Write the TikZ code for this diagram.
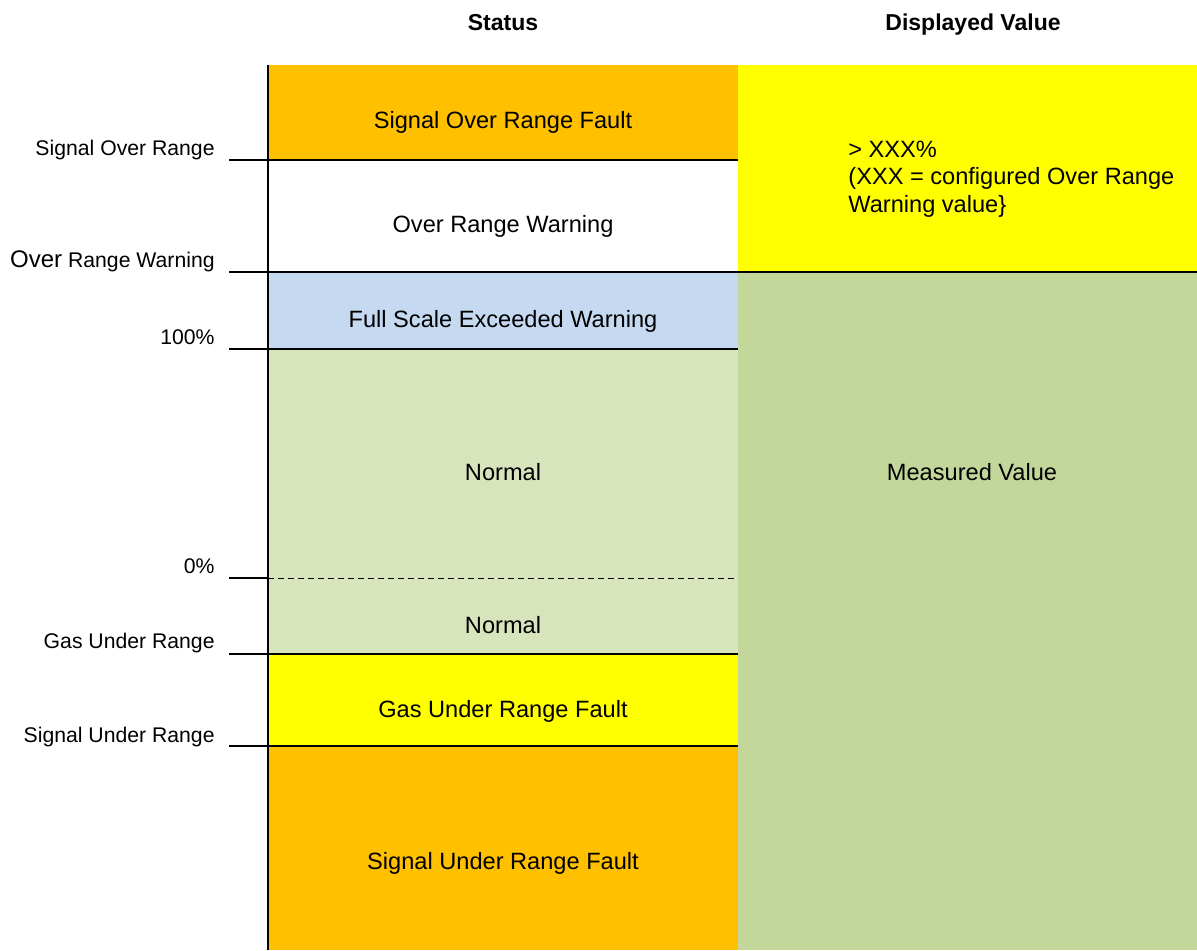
\documentclass[tikz,border=0pt]{standalone}
\usepackage{fontspec}
\setmainfont{Liberation Sans}
\definecolor{faultorange}{HTML}{FFC000}
\definecolor{faultyellow}{HTML}{FFFF00}
\definecolor{warnblue}{HTML}{C5D9F1}
\definecolor{normalgreen}{HTML}{D8E4BC}
\definecolor{valuegreen}{HTML}{C4D79B}
\begin{document}
\begin{tikzpicture}[
      x=0.5pt, y=-0.5pt,
      every node/.style={font=\fontsize{11.8}{13.6}\selectfont, inner sep=0pt},
      header/.style={anchor=base, font=\fontsize{11.5}{13.5}\selectfont\bfseries},
      band/.style={anchor=base},
      level/.style={anchor=base east, font=\fontsize{10.6}{12.5}\selectfont},
      tick/.style={line width=1pt},
      zero/.style={densely dashed, line width=0.4pt}
    ]
    \useasboundingbox (0,0) rectangle (1197,950);

    % status column
    \fill[faultorange] (268,65) rectangle (738,160);
    \fill[white] (268,160) rectangle (738,272);
    \fill[warnblue] (268,272) rectangle (738,349);
    \fill[normalgreen] (268,349) rectangle (738,654);
    \fill[faultyellow] (268,654) rectangle (738,746);
    \fill[faultorange] (268,746) rectangle (738,950);

    % displayed value column
    \fill[faultyellow] (738,65) rectangle (1197,272);
    \fill[valuegreen] (738,272) rectangle (1197,950);

    % level lines
    \coordinate (top) at (268,65);
    \coordinate (bottom) at (268,950);
    \draw[tick] (top) -- (bottom);
    \draw[tick] (229,160) -- (738,160);
    \draw[tick] (229,272) -- (1197,272);
    \draw[tick] (229,349) -- (738,349);
    \draw[tick] (229,578) -- (268,578);
    \draw[zero] (268,578) -- (738,578);
    \draw[tick] (229,654) -- (738,654);
    \draw[tick] (229,746) -- (738,746);

    \node[header] (status) at (503,30) {Status};
    \node[header] (displayed) at (973,30) {Displayed Value};

    \node[band] (sorf) at (503,128) {Signal Over Range Fault};
    \node[band] (orw) at (503,232) {Over Range Warning};
    \node[band] (fsew) at (503,327) {Full Scale Exceeded Warning};
    \node[band] (normal1) at (503,480) {Normal};
    \node[band] (normal2) at (503,633) {Normal};
    \node[band] (gurf) at (503,717) {Gas Under Range Fault};
    \node[band] (surf) at (503,869) {Signal Under Range Fault};

    \node[anchor=north west, align=left] (overvalue) at (848,141)
      {> XXX\%\\(XXX = configured Over Range\\Warning value\}};
    \node[band] (measured) at (972,480) {Measured Value};

    \node[level] (lsor) at (215,155) {Signal Over Range};
    \node[level] (lorw) at (215,267) {{\fontsize{12}{13.5}\selectfont Over} Range Warning};
    \node[level] (lfull) at (215,344) {100\%};
    \node[level] (lzero) at (215,573) {0\%};
    \node[level] (lgur) at (215,648) {Gas Under Range};
    \node[level] (lsur) at (215,742) {Signal Under Range};

  \end{tikzpicture}
\end{document}
